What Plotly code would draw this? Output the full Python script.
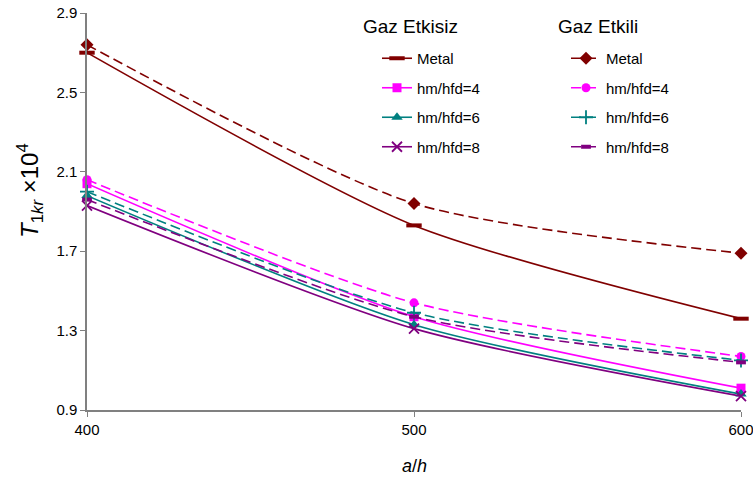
import plotly.graph_objects as go

x_vals = [400, 500, 600]
x_ticks = [400, 500, 600]
y_ticks = [0.9, 1.3, 1.7, 2.1, 2.5, 2.9]

etkisiz_metal = [2.70, 1.83, 1.36]
etkisiz_4 = [2.04, 1.37, 1.01]
etkisiz_6 = [1.98, 1.33, 0.98]
etkisiz_8 = [1.93, 1.31, 0.97]

etkili_metal = [2.74, 1.94, 1.69]
etkili_4 = [2.06, 1.44, 1.17]
etkili_6 = [2.00, 1.39, 1.15]
etkili_8 = [1.96, 1.37, 1.14]

names = ["Metal", "hm/hfd=4", "hm/hfd=6", "hm/hfd=8"]
group_titles = ["Gaz Etkisiz", "Gaz Etkili"]
colors = ["#800000", "#FF00FF", "#008080", "#800080"]

FONT = "Liberation Sans"
fig = go.Figure()

solid_series = [etkisiz_metal, etkisiz_4, etkisiz_6, etkisiz_8]
solid_markers = [
    dict(symbol="line-ew", size=11, line=dict(width=4, color=colors[0])),
    dict(symbol="square", size=9, color=colors[1], line=dict(width=0)),
    dict(symbol="triangle-up", size=10, color=colors[2], line=dict(width=0)),
    dict(symbol="x-thin", size=10, line=dict(width=1.8, color=colors[3])),
]
dash_series = [etkili_metal, etkili_4, etkili_6, etkili_8]
dash_markers = [
    dict(symbol="diamond", size=10, color=colors[0], line=dict(width=0)),
    dict(symbol="circle", size=9, color=colors[1], line=dict(width=0)),
    dict(symbol="cross-thin", size=10, line=dict(width=1.8, color=colors[2])),
    dict(symbol="line-ew", size=7, line=dict(width=4, color=colors[3])),
]

for i in range(4):
    fig.add_trace(go.Scatter(
        x=x_vals, y=solid_series[i], name=names[i], mode="lines+markers",
        line=dict(color=colors[i], width=1.6, shape="spline", smoothing=0.7),
        marker=solid_markers[i], legend="legend", legendgroup="a%d" % i,
        cliponaxis=False,
    ))
for i in range(4):
    fig.add_trace(go.Scatter(
        x=x_vals, y=dash_series[i], name=names[i], mode="lines+markers",
        line=dict(color=colors[i], width=1.6, dash="10px,5px", shape="spline", smoothing=0.7),
        marker=dash_markers[i], legend="legend2", legendgroup="b%d" % i,
        cliponaxis=False,
    ))

axis_common = dict(
    showline=True, linecolor="#808080", linewidth=1.5, showgrid=False, zeroline=False,
    ticks="outside", ticklen=5, tickcolor="#808080", tickwidth=1, automargin=False,
    ticklabeloverflow="allow",
    tickfont=dict(family=FONT, size=15, color="#000000"),
)

W, H = 753, 480
L, R, T, B = 87, 12, 13, 70
PW, PH = W - L - R, H - T - B


def px(xp):
    return (xp - L) / PW


def py(yp):
    return (H - B - yp) / PH


fig.update_layout(
    width=W, height=H,
    margin=dict(l=L, r=R, t=T, b=B, autoexpand=False),
    paper_bgcolor="white", plot_bgcolor="white",
    font=dict(family=FONT, color="#000000"),
    showlegend=True,
    xaxis=dict(range=[400, 600], tickvals=x_ticks, **axis_common),
    yaxis=dict(range=[0.9, 2.9], tickvals=y_ticks, tickformat=".1f", **axis_common),
    legend=dict(
        x=px(377), y=py(42), xanchor="left", yanchor="top",
        font=dict(family=FONT, size=15), bgcolor="rgba(0,0,0,0)",
        tracegroupgap=7, traceorder="grouped",
    ),
    legend2=dict(
        x=px(566), y=py(42), xanchor="left", yanchor="top",
        font=dict(family=FONT, size=15), bgcolor="rgba(0,0,0,0)",
        tracegroupgap=7, traceorder="grouped",
    ),
    annotations=[
        dict(text=group_titles[0], xref="paper", yref="paper",
             x=px(410), y=py(26), showarrow=False,
             font=dict(family=FONT, size=19, color="#000000"), xanchor="center", yanchor="middle"),
        dict(text=group_titles[1], xref="paper", yref="paper",
             x=px(598), y=py(26), showarrow=False,
             font=dict(family=FONT, size=19, color="#000000"), xanchor="center", yanchor="middle"),
        dict(text="<i>T</i><sub>1<i>kr</i></sub> ×10<sup>4</sup>", xref="paper", yref="paper",
             x=px(30), y=py(191), textangle=-90, showarrow=False,
             font=dict(family=FONT, size=24, color="#000000"), xanchor="center", yanchor="middle"),
        dict(text="<i>a</i>/<i>h</i>", xref="paper", yref="paper",
             x=0.5, y=py(466), showarrow=False,
             font=dict(family=FONT, size=18, color="#000000"), xanchor="center", yanchor="middle"),
    ],
)

fig.write_html(
    "out.html",
    config={"displayModeBar": False},
    post_script="document.body.style.margin='0';document.body.style.overflow='hidden';",
)
